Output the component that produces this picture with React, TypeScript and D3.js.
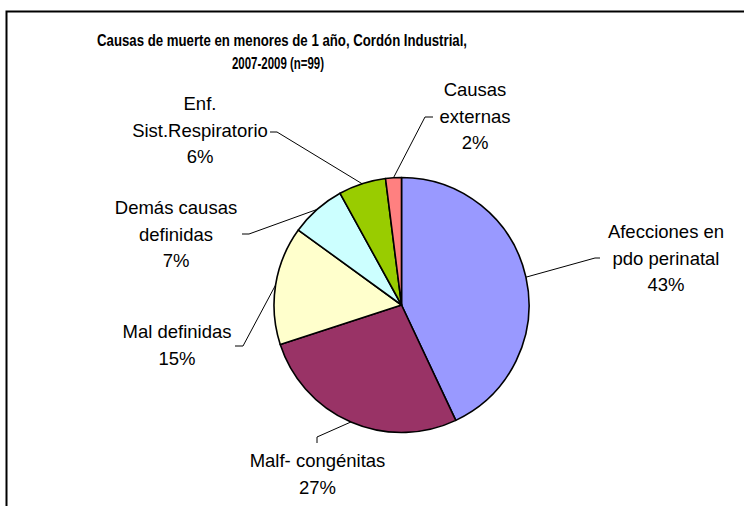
import React from "react";
import * as d3 from "d3";

const categories = [
  "Afecciones en pdo perinatal",
  "Malf- congénitas",
  "Mal definidas",
  "Demás causas definidas",
  "Enf. Sist.Respiratorio",
  "Causas externas",
];
const values = [43, 27, 15, 7, 6, 2];
const labelLines = [
  ["Afecciones en", "pdo perinatal", "43%"],
  ["Malf- congénitas", "27%"],
  ["Mal definidas", "15%"],
  ["Demás causas", "definidas", "7%"],
  ["Enf.", "Sist.Respiratorio", "6%"],
  ["Causas", "externas", "2%"],
];
const colors = ["#9999FF", "#993366", "#FFFFCC", "#CCFFFF", "#99CC00", "#FF8080"];
const titleLines = ["Causas de muerte en menores de 1 año, Cordón Industrial,", "2007-2009 (n=99)"];

// layout (label placement, not data)
const layout = [
  { cx: 666, y0: 238, elbow: [595, 258], end: [600, 258] },
  { cx: 317.5, y0: 467, elbow: [317, 437], end: [317, 443] },
  { cx: 177, y0: 338, elbow: [243, 346], end: [235, 346] },
  { cx: 176, y0: 214, elbow: [249, 234], end: [242, 234] },
  { cx: 200, y0: 110, elbow: [277, 132], end: [270, 132] },
  { cx: 475, y0: 96, elbow: [425, 117], end: [433, 117] },
];
const titleLayout = [
  { x: 282, y: 46, len: 370 },
  { x: 278, y: 69, len: 92 },
];

export default function App() {
  const W = 744, H = 506;
  const cx = 401.5, cy = 305, r = 127.5;
  const data = categories.map((c, i) => ({ c, v: values[i], i }));
  const pie = d3.pie<any>().value((d) => d.v).sort(null).startAngle(0).endAngle(2 * Math.PI);
  const arcs = pie(data);
  const arc = d3.arc<any>().innerRadius(0).outerRadius(r);
  const edge = d3.arc<any>().innerRadius(r).outerRadius(r);
  const lh = 26.5;
  const font = "'Liberation Sans', Arial, sans-serif";
  return (
    <svg width={W} height={H} style={{ position: "absolute", left: 0, top: 0, background: "#fff" }}>
      <rect x={6.5} y={11.5} width={800} height={600} fill="#fff" stroke="#000" strokeWidth={2} />
      <g fontFamily={font} fontWeight="bold" fontSize={16.5} textAnchor="middle">
        {titleLines.map((t, i) => (
          <text key={i} x={titleLayout[i].x} y={titleLayout[i].y} textLength={titleLayout[i].len} lengthAdjust="spacingAndGlyphs">{t}</text>
        ))}
      </g>
      <g transform={`translate(${cx},${cy})`}>
        {arcs.map((a, i) => (
          <path key={i} d={arc(a) as string} fill={colors[i]} stroke="#000" strokeWidth={1.6} strokeLinejoin="round" />
        ))}
      </g>
      {arcs.map((a, i) => {
        const [mx, my] = edge.centroid(a);
        const L = layout[i];
        const d = d3.line()([[cx + mx, cy + my], L.elbow as [number, number], L.end as [number, number]]);
        return <path key={i} d={d as string} fill="none" stroke="#000" strokeWidth={1} />;
      })}
      <g fontFamily={font} fontSize={18.5} textAnchor="middle" fill="#000">
        {labelLines.map((lines, i) =>
          lines.map((t, j) => (
            <text key={i + "-" + j} x={layout[i].cx} y={layout[i].y0 + j * lh}>{t}</text>
          ))
        )}
      </g>
    </svg>
  );
}
